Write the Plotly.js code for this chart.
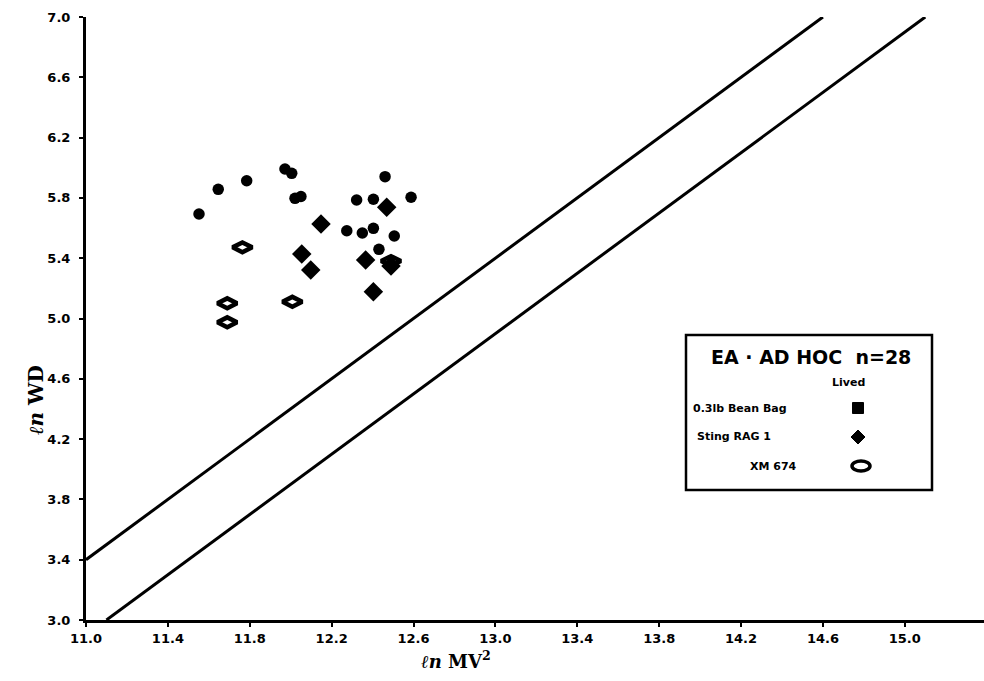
<!DOCTYPE html>
<html>
<head>
<meta charset="utf-8">
<script src="https://cdn.plot.ly/plotly-3.0.1.min.js"></script>
<style>html,body{margin:0;padding:0;background:#fff;}#chart{width:984px;height:681px;}</style>
</head>
<body>
<div id="chart"></div>
<script>
// ---- data ----
const beanBagX = [11.552, 11.646, 11.785, 11.972, 12.005, 12.021, 12.050, 12.461, 12.322, 12.404, 12.588, 12.274, 12.350, 12.404, 12.506, 12.431];
const beanBagY = [5.693, 5.857, 5.914, 5.992, 5.963, 5.797, 5.809, 5.941, 5.786, 5.791, 5.804, 5.582, 5.567, 5.598, 5.547, 5.459];
const stingX = [12.469, 12.148, 12.054, 12.098, 12.366, 12.404, 12.490];
const stingY = [5.738, 5.627, 5.428, 5.322, 5.388, 5.178, 5.348];
const xmX = [11.764, 11.690, 11.690, 12.008, 12.490];
const xmY = [5.472, 5.101, 4.975, 5.111, 5.381];
const upperLineX = [11.0, 14.6];
const upperLineY = [3.4, 7.0];
const lowerLineX = [11.1, 15.1];
const lowerLineY = [3.0, 7.0];
const xTicks = [11.0, 11.4, 11.8, 12.2, 12.6, 13.0, 13.4, 13.8, 14.2, 14.6, 15.0];
const xTickText = ["11.0", "11.4", "11.8", "12.2", "12.6", "13.0", "13.4", "13.8", "14.2", "14.6", "15.0"];
const yTicks = [3.0, 3.4, 3.8, 4.2, 4.6, 5.0, 5.4, 5.8, 6.2, 6.6, 7.0];
const yTickText = ["3.0", "3.4", "3.8", "4.2", "4.6", "5.0", "5.4", "5.8", "6.2", "6.6", "7.0"];
const legendTitle = "EA · AD HOC  n=28";
const legendSub = "Lived";
const seriesNames = ["0.3lb Bean Bag", "Sting RAG 1", "XM 674"];

// ---- layout helpers (pixel -> paper) ----
const W = 984, H = 681, L = 86, R = 0, T = 17, B = 61;
const PW = W - L - R, PH = H - T - B;
const px = x => (x - L) / PW;
const py = y => (H - B - y) / PH;

const font = "DejaVu Sans, Liberation Sans, sans-serif";

const traces = [
  {x: upperLineX, y: upperLineY, mode: "lines", line: {color: "#000", width: 3}, hoverinfo: "skip", showlegend: false, cliponaxis: false},
  {x: lowerLineX, y: lowerLineY, mode: "lines", line: {color: "#000", width: 3}, hoverinfo: "skip", showlegend: false, cliponaxis: false},
  {x: beanBagX, y: beanBagY, mode: "markers", name: seriesNames[0], marker: {symbol: "circle", size: 11.5, color: "#000"}, showlegend: false},
  {x: stingX, y: stingY, mode: "markers", name: seriesNames[1], marker: {symbol: "diamond", size: 15, color: "#000"}, showlegend: false},
  {x: xmX, y: xmY, mode: "markers", name: seriesNames[2], marker: {symbol: "diamond-wide-open", size: 14, color: "#000", line: {color: "#000", width: 4.5}}, showlegend: false}
];

const legendShapes = [
  {type: "rect", xref: "paper", yref: "paper", x0: px(686), x1: px(932), y0: py(490), y1: py(335), line: {color: "#000", width: 2.5}, fillcolor: "rgba(255,255,255,0)"},
  {type: "rect", xref: "paper", yref: "paper", x0: px(852.5), x1: px(863.5), y0: py(413.5), y1: py(402.5), line: {color: "#000", width: 1}, fillcolor: "#000"},
  {type: "path", xref: "paper", yref: "paper", path: `M ${px(858)} ${py(430)} L ${px(865)} ${py(437)} L ${px(858)} ${py(444)} L ${px(851)} ${py(437)} Z`, line: {color: "#000", width: 1}, fillcolor: "#000"},
  {type: "circle", xref: "paper", yref: "paper", x0: px(852), x1: px(870), y0: py(471), y1: py(461), line: {color: "#000", width: 3.5}, fillcolor: "rgba(255,255,255,0)"}
];

const ann = (text, x, y, size, opts) => Object.assign({
  text: text, xref: "paper", yref: "paper", x: px(x), y: py(y), showarrow: false,
  xanchor: "center", yanchor: "middle", font: {family: font, size: size, color: "#000", weight: "bold"}
}, opts || {});

const annotations = [
  ann(legendTitle, 811, 357, 19),
  ann(legendSub, 848, 382, 11),
  ann(seriesNames[0], 740, 408, 11),
  ann(seriesNames[1], 734, 437, 11),
  ann(seriesNames[2], 773, 466, 11),
  ann("<i>ℓn</i> WD", 36, 400, 20, {textangle: -90, font: {family: "DejaVu Serif, serif", size: 20, color: "#000", weight: "bold"}}),
  ann("<i>ℓn</i> MV<sup>2</sup>", 456, 660, 18, {font: {family: "DejaVu Serif, serif", size: 18, color: "#000", weight: "bold"}})
];

const layout = {
  width: W, height: H,
  margin: {l: L, r: R, t: T, b: B, pad: 0},
  paper_bgcolor: "#fff", plot_bgcolor: "#fff",
  showlegend: false,
  xaxis: {
    range: [11.0, 11.0 + PW / 204.7], tickmode: "array", tickvals: xTicks, ticktext: xTickText,
    showgrid: false, zeroline: false, showline: true, linecolor: "#000", linewidth: 3,
    ticks: "outside", ticklen: 4, tickwidth: 2, tickcolor: "#000",
    tickfont: {family: font, size: 13, color: "#000", weight: "bold"}, fixedrange: true
  },
  yaxis: {
    range: [3.0, 7.0], tickmode: "array", tickvals: yTicks, ticktext: yTickText,
    showgrid: false, zeroline: false, showline: true, linecolor: "#000", linewidth: 3,
    ticks: "outside", ticklen: 4, tickwidth: 2, tickcolor: "#000", ticklabelstandoff: 6,
    tickfont: {family: font, size: 13, color: "#000", weight: "bold"}, fixedrange: true
  },
  shapes: legendShapes,
  annotations: annotations
};

Plotly.newPlot("chart", traces, layout, {displayModeBar: false, staticPlot: true});
</script>
</body>
</html>
